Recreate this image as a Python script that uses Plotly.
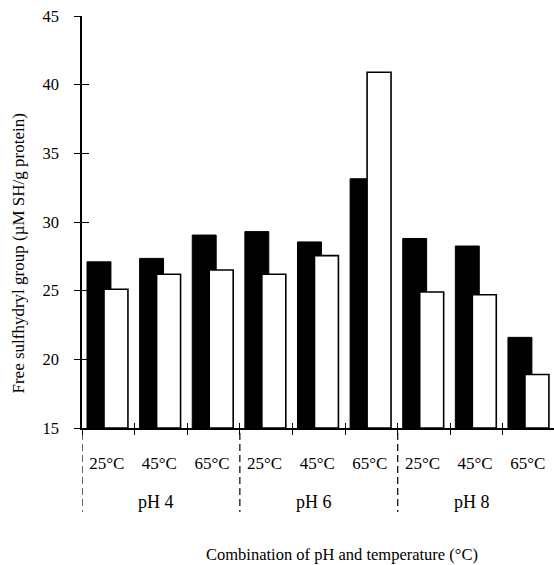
import plotly.graph_objects as go

# ---- data ----
temperatures = ["25°C", "45°C", "65°C", "25°C", "45°C", "65°C", "25°C", "45°C", "65°C"]
ph_groups = ["pH 4", "pH 6", "pH 8"]
black_values = [27.1, 27.35, 29.05, 29.3, 28.55, 33.15, 28.8, 28.25, 21.6]
white_values = [25.1, 26.2, 26.5, 26.2, 27.55, 40.9, 24.9, 24.7, 18.9]
y_ticks = [15, 20, 25, 30, 35, 40, 45]

FONT = "Liberation Serif, Times New Roman, serif"
n = len(temperatures)
pos = list(range(n))
centers = [p + 0.47 for p in pos]
boundaries = list(range(n))
group_edges = [0, 3, 6]
group_centers = [1.5, 4.5, 7.5]

fig = go.Figure()
fig.add_trace(go.Bar(
    x=pos, y=[v - 15 for v in black_values], base=15,
    offset=0.095, width=0.455,
    marker=dict(color="black", line=dict(color="black", width=1)),
    showlegend=False, hoverinfo="skip",
))
fig.add_trace(go.Bar(
    x=pos, y=[v - 15 for v in white_values], base=15,
    offset=0.418, width=0.455,
    marker=dict(color="white", line=dict(color="black", width=1.6)),
    showlegend=False, hoverinfo="skip",
))
# invisible trace to activate overlay axes
fig.add_trace(go.Scatter(x=[None], y=[None], xaxis="x2", yaxis="y2", showlegend=False))

XR = [0, 8.97]
YR = [15, 45]

fig.update_layout(
    width=554, height=565,
    margin=dict(l=82, r=0, t=16, b=137),
    paper_bgcolor="white", plot_bgcolor="white",
    barmode="overlay",
    font=dict(family=FONT, color="black"),
    xaxis=dict(
        range=XR, showgrid=False, zeroline=False,
        showline=True, linecolor="black", linewidth=1.5,
        tickmode="array", tickvals=centers, ticktext=temperatures,
        ticks="", tickfont=dict(size=17, family=FONT),
        ticklabelstandoff=19,
        minor=dict(tickmode="array", tickvals=boundaries, ticks="outside",
                   ticklen=5, tickwidth=1.3, tickcolor="black"),
    ),
    xaxis2=dict(
        range=XR, overlaying="x", anchor="y", side="bottom",
        showgrid=False, zeroline=False, showline=False,
        tickmode="array", tickvals=boundaries, ticks="inside",
        ticklen=5, tickwidth=1.3, tickcolor="black", showticklabels=False,
    ),
    yaxis=dict(
        range=YR, showgrid=False, zeroline=False,
        showline=True, linecolor="black", linewidth=1.5,
        tickmode="array", tickvals=y_ticks,
        ticks="outside", ticklen=6, tickwidth=1.3, tickcolor="black",
        tickfont=dict(size=16.5, family=FONT), ticklabelstandoff=12,
    ),
    yaxis2=dict(
        range=YR, overlaying="y", anchor="x", side="left",
        showgrid=False, zeroline=False, showline=False,
        tickmode="array", tickvals=y_ticks,
        ticks="inside", ticklen=7, tickwidth=1.3, tickcolor="black",
        showticklabels=False,
    ),
)

# dashed separators below the axis
for e in group_edges:
    fig.add_shape(type="line", xref="x", yref="paper", x0=e, x1=e,
                  y0=-5 / 412, y1=-84 / 412,
                  line=dict(color="black", width=1.2, dash="7px,4px"))

for label, c in zip(ph_groups, group_centers):
    fig.add_annotation(x=c, y=-74 / 412, xref="x", yref="paper", text=label,
                       showarrow=False, xshift=-5, yanchor="middle",
                       font=dict(size=18, family=FONT))

fig.add_annotation(x=305.5 / 554, y=-126 / 412, xref="paper", yref="paper",
                   xanchor="center", yanchor="middle",
                   text="Combination of pH and temperature (°C)", showarrow=False,
                   font=dict(size=16.5, family=FONT))
fig.add_annotation(x=(18 - 82) / 472, y=(428 - 253.5) / 412, xref="paper", yref="paper",
                   xanchor="center", yanchor="middle", textangle=-90,
                   text="Free sulfhydryl group (µM SH/g protein)", showarrow=False,
                   font=dict(size=17, family=FONT))

fig.write_html("out.html")
